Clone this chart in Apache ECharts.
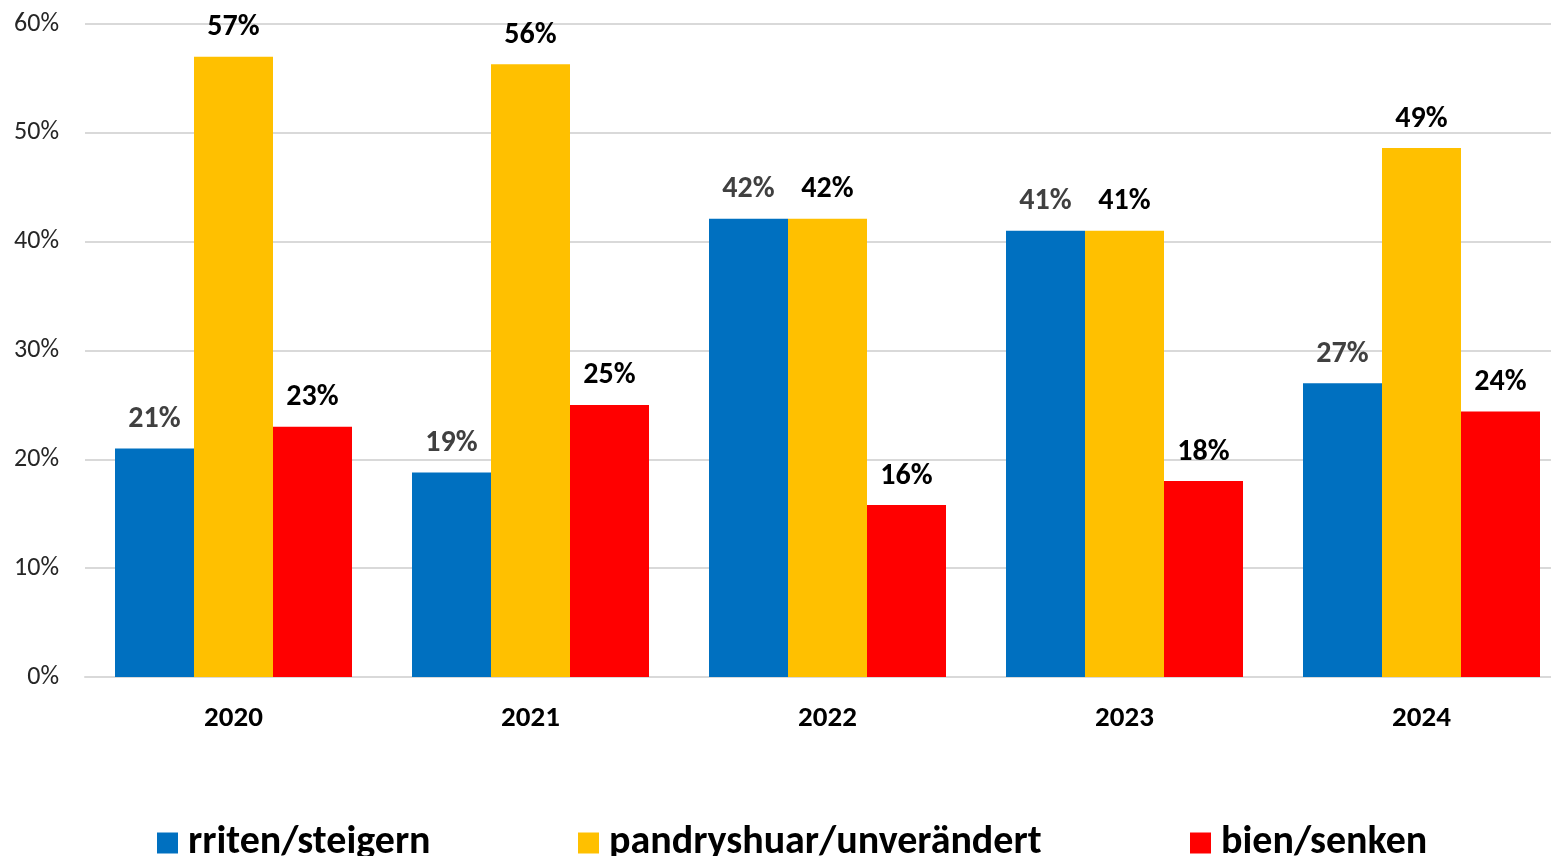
<!DOCTYPE html>
<html>
<head>
<meta charset="utf-8">
<script src="https://cdn.jsdelivr.net/npm/echarts@6/dist/echarts.min.js"></script>
<style>
  html, body { margin: 0; padding: 0; background: #fff; overflow: hidden; }
  /* plot runs past the right edge, like the source picture (cropped) */
  #chart { width: 1570px; height: 856px; }
</style>
</head>
<body>
<div id="chart"></div>
<script>
// values (percent)
const years = ["2020", "2021", "2022", "2023", "2024"];
const rise = [21, 18.8, 42.1, 41, 27];
const same = [57, 56.3, 42.1, 41, 48.6];
const fall = [23, 25, 15.8, 18, 24.4];
const yTicks = [0, 10, 20, 30, 40, 50, 60];

const FONT = "Carlito, Lato, sans-serif";
const names = ["rriten/steigern", "pandryshuar/unverändert", "bien/senken"];
const colors = ["#0070C0", "#FFC000", "#FF0000"];

const chart = echarts.init(document.getElementById("chart"));

function mkLabel(color) {
  return {
    show: true,
    position: "top",
    distance: 14,
    color: color,
    fontFamily: FONT,
    fontWeight: "bold",
    fontSize: 30,
    formatter: p => Math.round(p.value) + "%"
  };
}

function mkLegend(i, left) {
  return {
    data: [names[i]],
    left: left,
    top: 818,
    itemWidth: 21,
    itemHeight: 21,
    itemGap: 10,
    icon: "rect",
    textStyle: {
      fontFamily: FONT,
      fontWeight: "bold",
      fontSize: 40,
      color: "#000",
      padding: [0, 0, 0, 5]
    }
  };
}

const option = {
  animation: false,
  color: colors,
  legend: [mkLegend(0, 152), mkLegend(1, 573), mkLegend(2, 1185)],
  grid: { left: 85, top: 24, right: 0, height: 653, containLabel: false },
  xAxis: {
    type: "category",
    data: years,
    axisLine: { lineStyle: { color: "#D9D9D9", width: 2 } },
    axisTick: { show: false },
    axisLabel: {
      margin: 27,
      color: "#000",
      fontFamily: FONT,
      fontWeight: "bold",
      fontSize: 29
    }
  },
  yAxis: {
    type: "value",
    min: yTicks[0],
    max: yTicks[yTicks.length - 1],
    interval: 10,
    axisLine: { show: false },
    axisTick: { show: false },
    splitLine: { lineStyle: { color: "#D9D9D9", width: 2 } },
    axisLabel: {
      color: "#262626",
      fontFamily: FONT,
      fontSize: 26,
      margin: 26,
      formatter: v => v + "%"
    }
  },
  series: [
    { name: names[0], type: "bar", data: rise, barWidth: 79, barGap: "0%", label: mkLabel("#404040") },
    { name: names[1], type: "bar", data: same, barWidth: 79, barGap: "0%", label: mkLabel("#000") },
    { name: names[2], type: "bar", data: fall, barWidth: 79, barGap: "0%", label: mkLabel("#000") }
  ]
};

chart.setOption(option);
</script>
</body>
</html>
